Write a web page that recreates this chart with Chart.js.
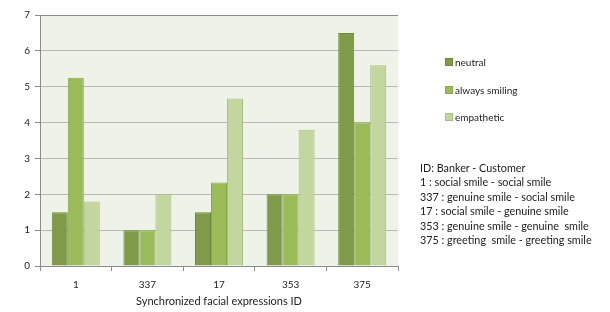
<!DOCTYPE html>
<html>
<head>
<meta charset="utf-8">
<script src="https://cdn.jsdelivr.net/npm/chart.js@4"></script>
<style>
    body { margin: 0; background: #ffffff; }
    #wrap { position: relative; width: 610px; height: 312px; font-family: Lato, "Open Sans", sans-serif; color: #222; }
    #legend { position: absolute; left: 445px; top: 56px; font-size: 10px; }
    #legend div { height: 27.5px; display: flex; align-items: flex-start; }
    #legend span.box { display: inline-block; width: 8px; height: 8px; margin: 2px 2px 0 0; box-sizing: border-box; }
    #notes { position: absolute; left: 420px; top: 161px; font-size: 10.8px; line-height: 14.4px; white-space: pre; }
</style>
</head>
<body>
<div id="wrap">
    <canvas id="bar-chart" width="610" height="312"></canvas>
    <div id="legend"></div>
    <div id="notes"></div>
</div>
<script>
const categories = ['1', '337', '17', '353', '375'];
const neutral = [1.5, 1, 1.5, 2, 6.5];
const alwaysSmiling = [5.25, 1, 2.33, 2, 4];
const empathetic = [1.8, 2, 4.67, 3.8, 5.6];
const seriesNames = ['neutral', 'always smiling', 'empathetic'];
const noteLines = [
    'ID: Banker - Customer',
    '1 : social smile - social smile',
    '337 : genuine smile - social smile',
    '17 : social smile - genuine smile',
    '353 : genuine smile - genuine  smile',
    '375 : greeting  smile - greeting smile'
];

const fillColors = ['#7f9a48', '#9bbb59', '#c4d6a0'];
const edgeColors = ['#6d8a3a', '#89a94b', '#a9bf82'];

// plot area background
const plotBg = {
    id: 'plotBg',
    beforeDraw(chart) {
        const a = chart.chartArea;
        const ctx = chart.ctx;
        ctx.save();
        ctx.fillStyle = '#eff2e9';
        ctx.fillRect(a.left, a.top, a.right - a.left, a.bottom - a.top);
        ctx.restore();
    }
};

let allSeries = [neutral, alwaysSmiling, empathetic];
let datasets = [];
for (let i = 0; i < allSeries.length; ++i) {
    datasets.push({
        label: seriesNames[i],
        data: allSeries[i],
        backgroundColor: fillColors[i],
        borderColor: edgeColors[i],
        borderWidth: 1,
        borderSkipped: 'bottom',
        categoryPercentage: 0.67,
        barPercentage: 1.0
    });
}

const config = {
    type: 'bar',
    data: {
        labels: categories,
        datasets: datasets
    },
    options: {
        responsive: false,
        animation: false,
        layout: {
            padding: { left: 0, top: 15, right: 212, bottom: 0 }
        },
        plugins: {
            legend: { display: false },
            tooltip: { enabled: false }
        },
        scales: {
            x: {
                afterFit: function(scale) { scale.height = 46; },
                grid: {
                    drawOnChartArea: false,
                    drawTicks: true,
                    tickLength: 5,
                    color: '#8c8c8c',
                    offset: true
                },
                border: { color: '#8c8c8c' },
                ticks: {
                    color: '#222',
                    font: { family: 'Lato', size: 10 },
                    padding: 8
                },
                title: {
                    display: true,
                    text: 'Synchronized facial expressions ID',
                    color: '#222',
                    font: { family: 'Lato', size: 11 },
                    padding: { top: 2 }
                }
            },
            y: {
                min: 0,
                max: 7,
                afterFit: function(scale) { scale.width = 40; },
                ticks: {
                    stepSize: 1,
                    color: '#222',
                    font: { family: 'Lato', size: 10 },
                    padding: 5
                },
                grid: {
                    color: function(c) { return c.tick && c.tick.value == 7 ? '#8c8c8c' : '#b8b8b8'; },
                    tickColor: '#8c8c8c',
                    tickLength: 5
                },
                border: { color: '#8c8c8c' }
            }
        }
    },
    plugins: [plotBg]
};

new Chart('bar-chart', config);

// legend on the right
let legendHtml = '';
for (let i = 0; i < seriesNames.length; ++i) {
    legendHtml += '<div><span class="box" style="background:' + fillColors[i] + ';border:1px solid ' + edgeColors[i] + '"></span>' + seriesNames[i] + '</div>';
}
document.getElementById('legend').innerHTML = legendHtml;
document.getElementById('notes').textContent = noteLines.join('\n');
</script>
</body>
</html>
